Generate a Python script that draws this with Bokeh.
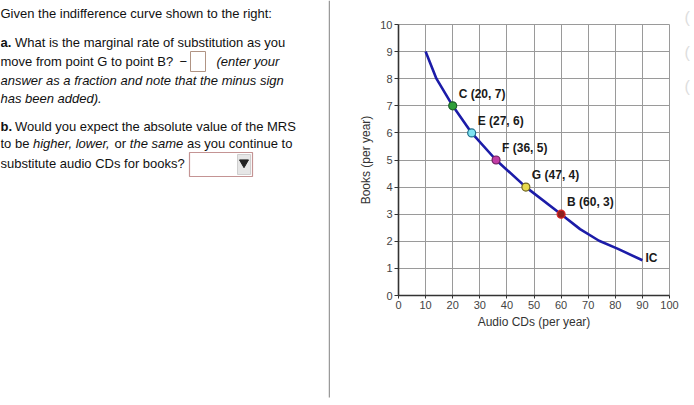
from bokeh.plotting import figure
from bokeh.layouts import row
from bokeh.models import Range1d, FixedTicker, ColumnDataSource
from bokeh.core.properties import value
from bokeh.embed import file_html
from bokeh.resources import INLINE

# ---------------- data ----------------
x_ticks = [0, 10, 20, 30, 40, 50, 60, 70, 80, 90, 100]
y_ticks = [0, 1, 2, 3, 4, 5, 6, 7, 8, 9, 10]

curve_x = [10, 14, 20, 27, 36, 47, 60, 67, 74, 81, 90]
curve_y = [9, 8, 7, 6, 5, 4, 3, 2.45, 2.02, 1.72, 1.3]

point_names = ["C", "E", "F", "G", "B"]
point_x = [20, 27, 36, 47, 60]
point_y = [7, 6, 5, 4, 3]
point_labels = [f"{n} ({x}, {y})" for n, x, y in zip(point_names, point_x, point_y)]

curve_name = "IC"
x_title = "Audio CDs (per year)"
y_title = "Books (per year)"

# styles
point_fill = ["#2e9e3a", "#7fe3f2", "#c23ca6", "#e8da4e", "#8e2020"]
point_line = ["#1f5f28", "#1f6f8a", "#6a1f5c", "#6f6420", "#e02626"]
FONT = "Liberation Sans"

# ---------------- left question panel ----------------
left = figure(width=330, height=405, x_range=Range1d(0, 330), y_range=Range1d(405, 0),
              x_axis_location=None, y_axis_location=None, toolbar_location=None,
              output_backend="svg", min_border=0)
left.frame_align = False
left.grid.visible = False
left.outline_line_color = None
left.background_fill_color = "white"
left.border_fill_color = "white"

segments = [
    ("Given the indifference curve shown to the right:", 0, 13, "normal"),
    ("a.", 0, 42, "bold"),
    ("What is the marginal rate of substitution as you", 14.5, 42, "normal"),
    ("move from point G to point B?", 0, 61, "normal"),
    ("\u2212", 179, 61, "normal"),
    ("(enter your", 216, 61, "italic"),
    ("answer as a fraction and note that the minus sign", 0, 80, "italic"),
    ("has been added).", 0, 97.5, "italic"),
    ("b.", 0, 126, "bold"),
    ("Would you expect the absolute value of the MRS", 14.5, 126, "normal"),
    ("to be", 0, 143, "normal"),
    ("higher, lower,", 32.5, 143, "italic"),
    ("or", 114, 143, "normal"),
    ("the same", 129.3, 143, "italic"),
    ("as you continue to", 186.4, 143, "normal"),
    ("substitute audio CDs for books?", 0, 163, "normal"),
]
for txt, sx, sy, style in segments:
    left.text(x=[sx], y=[sy], text=[txt], text_font=value(FONT), text_font_size="13px",
              text_font_style=style, text_color="#111111", text_baseline="middle", text_align="left")

# answer box after the minus sign
left.quad(left=[190], right=[205], top=[51], bottom=[71], fill_color="white",
          line_color="#b09484", line_width=1)
# dropdown
left.quad(left=[189], right=[252], top=[152], bottom=[176], fill_color="white",
          line_color="#c49494", line_width=1.2)
left.quad(left=[237], right=[250], top=[154], bottom=[174], fill_color="#e6e6e6",
          line_color="#cfcfcf", line_width=1)
left.scatter(x=[243.5], y=[162], marker="inverted_triangle", size=9, fill_color="#222222",
             line_color="#222222")
# separator line
left.segment(x0=[329], y0=[0], x1=[329], y1=[397], line_color="#9a9a9a", line_width=1.5)

# ---------------- chart ----------------
p = figure(width=350, height=405, x_range=Range1d(0, 100), y_range=Range1d(0, 10),
           min_border_left=68, min_border_right=11, min_border_top=24, min_border_bottom=110,
           toolbar_location=None, output_backend="svg")
p.frame_align = False
p.background_fill_color = "white"
p.border_fill_color = "white"
p.outline_line_color = "#9a9a9a"
p.outline_line_width = 1

p.xaxis.ticker = FixedTicker(ticks=x_ticks)
p.yaxis.ticker = FixedTicker(ticks=y_ticks)
p.xgrid.ticker = FixedTicker(ticks=x_ticks)
p.ygrid.ticker = FixedTicker(ticks=y_ticks)
p.grid.grid_line_color = "#9a9a9a"
p.grid.grid_line_width = 1

for ax in (p.xaxis, p.yaxis):
    ax.axis_line_color = "#333333"
    ax.axis_line_width = 1.6
    ax.major_tick_line_color = "#333333"
    ax.major_tick_in = 0
    ax.minor_tick_line_color = None
    ax.major_label_text_font = FONT
    ax.major_label_text_font_size = "11px"
    ax.major_label_text_color = "#444444"
    ax.axis_label_text_font = FONT
    ax.axis_label_text_font_size = "12px"
    ax.axis_label_text_font_style = "normal"
    ax.axis_label_text_color = "#333333"
p.xaxis.major_tick_out = 3
p.yaxis.major_tick_out = 4
p.xaxis.major_label_standoff = 2
p.yaxis.major_label_standoff = 2
p.xaxis.axis_label = x_title
p.yaxis.axis_label = y_title
p.xaxis.axis_label_standoff = 3
p.yaxis.axis_label_standoff = 4

p.line(curve_x, curve_y, line_color="#1c1ca8", line_width=2.6, line_join="round")

src = ColumnDataSource(dict(x=point_x, y=point_y, label=point_labels,
                            fill=point_fill, line=point_line))
p.scatter("x", "y", source=src, size=8, fill_color="fill", line_color="line", line_width=1.2)
p.text("x", "y", text="label", source=src, x_offset=6, y_offset=-12,
       text_font=value(FONT), text_font_size="12px", text_font_style="bold",
       text_color="#1a1a1a", text_baseline="middle", text_align="left")
p.text(x=[curve_x[-1]], y=[curve_y[-1]], text=[curve_name], x_offset=3, y_offset=-2,
       text_font=value(FONT), text_font_size="12px", text_font_style="bold",
       text_color="#1a1a1a", text_baseline="middle", text_align="left")

# ---------------- faint side icons ----------------
side = figure(width=14, height=405, x_range=Range1d(680, 694), y_range=Range1d(405, 0),
              x_axis_location=None, y_axis_location=None, toolbar_location=None,
              output_backend="svg", min_border=0)
side.frame_align = False
side.grid.visible = False
side.outline_line_color = None
side.text(x=[684, 684, 684], y=[17, 52, 86], text=["(", "(", "("], text_font=value(FONT),
          text_font_size="16px", text_color="#dddddd", text_baseline="middle")

layout = row(left, p, side, spacing=0)
open("out.html", "w").write(file_html(layout, INLINE))
